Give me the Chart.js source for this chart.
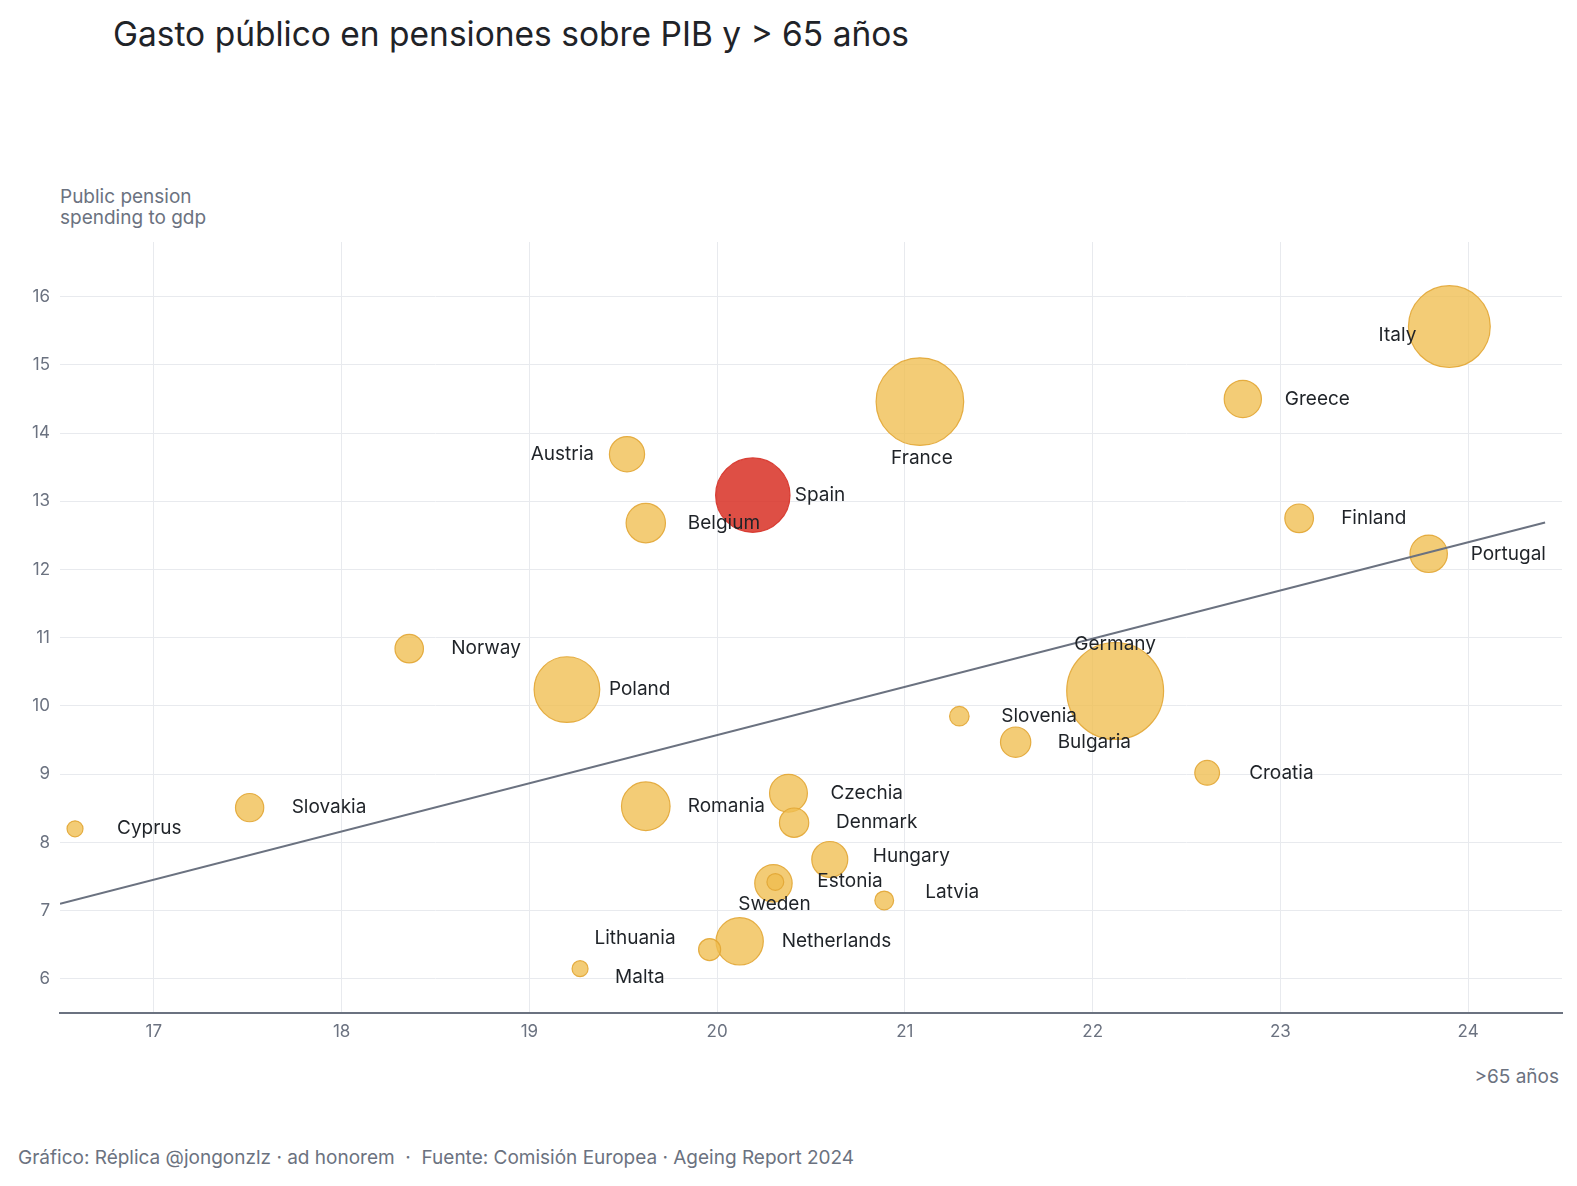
<!DOCTYPE html>
<html lang="es">
<head>
<meta charset="utf-8">
<title>Gasto público en pensiones sobre PIB y > 65 años</title>
<script src="https://cdn.jsdelivr.net/npm/chart.js@4"></script>
<style>
  html, body { margin: 0; padding: 0; background: #fff; }
  body { width: 1577px; height: 1186px; position: relative; overflow: hidden; font-family: Inter, "Liberation Sans", sans-serif; }
  /* lienzo algo más ancho: Chart.js reserva el radio de la burbuja mayor a la derecha */
  #chart { position: absolute; left: 0; top: 0; }
  .txt { position: absolute; white-space: nowrap; }
  #titulo { left: 113px; top: 13px; font-size: 33.5px; line-height: 42px; color: #1f2328; }
  #ytitulo { left: 60px; top: 186px; font-size: 19px; line-height: 21px; color: #6b7280; }
  #xtitulo { right: 18px; top: 1066px; font-size: 19px; line-height: 21px; color: #6b7280; }
  #fuente { left: 18px; top: 1147px; font-size: 19px; line-height: 21px; color: #6b7280; }
</style>
</head>
<body>
<div id="titulo" class="txt">Gasto público en pensiones sobre PIB y &gt; 65 años</div>
<div id="ytitulo" class="txt">Public pension<br>spending to gdp</div>
<div id="xtitulo" class="txt">&gt;65 años</div>
<div id="fuente" class="txt">Gráfico: Réplica @jongonzlz · ad honorem &nbsp;· &nbsp;Fuente: Comisión Europea · Ageing Report 2024</div>
<canvas id="chart" width="1612" height="1186"></canvas>
<script>
// datos
const paises = ['Italy', 'France', 'Greece', 'Spain', 'Austria', 'Belgium', 'Finland', 'Portugal',
  'Norway', 'Poland', 'Germany', 'Slovenia', 'Bulgaria', 'Croatia', 'Czechia', 'Denmark',
  'Romania', 'Slovakia', 'Cyprus', 'Hungary', 'Sweden', 'Estonia', 'Latvia', 'Netherlands',
  'Lithuania', 'Malta'];
const mayores65 = [23.90, 21.08, 22.80, 20.19, 19.52, 19.62, 23.10, 23.79,
  18.36, 19.20, 22.12, 21.29, 21.59, 22.61, 20.38, 20.41,
  19.62, 17.51, 16.58, 20.60, 20.30, 20.31, 20.89, 20.12,
  19.96, 19.27];
const gastoPension = [15.56, 14.46, 14.50, 13.09, 13.69, 12.68, 12.75, 12.23,
  10.84, 10.24, 10.22, 9.85, 9.47, 9.02, 8.72, 8.29,
  8.53, 8.51, 8.20, 7.75, 7.40, 7.42, 7.15, 6.55,
  6.43, 6.15];
// población (millones), da el tamaño de la burbuja
const poblacion = [59.0, 68.2, 10.4, 48.1, 9.1, 11.8, 5.6, 10.5,
  5.5, 36.8, 84.4, 2.1, 6.4, 3.9, 10.8, 5.9,
  19.0, 5.4, 0.9, 9.6, 10.5, 1.4, 1.9, 17.9,
  2.9, 0.5];
// recta de tendencia
const tendenciaX = [16.5, 24.41];
const tendenciaY = [7.10, 12.69];

// marcas de los ejes
const ticksX = [17, 18, 19, 20, 21, 22, 23, 24];
const ticksY = [6, 7, 8, 9, 10, 11, 12, 13, 14, 15, 16];

const destacado = 'Spain';

// colocación de etiquetas: [alineación, dx, dy]
const etiquetaPos = {
  Austria:   ['right', -33, 0],
  Italy:     ['right', -33, 9],
  Lithuania: ['right', -34, -11],
  France:    ['center', 2, 57],
  Germany:   ['center', 0, -47],
  Sweden:    ['center', 1, 21],
  Malta:     ['left', 35, 9],
  Latvia:    ['left', 41, -8],
  Hungary:   ['left', 43, -3],
  Estonia:   ['left', 42, -1]
};

const radio = p => Math.max(8, 2.5 + 5 * Math.sqrt(p));

const puntos = paises.map((p, i) => ({ x: mayores65[i], y: gastoPension[i], r: radio(poblacion[i]) }));
const relleno = paises.map(p => p === destacado ? 'rgba(216, 48, 36, 0.85)' : 'rgba(239, 190, 80, 0.78)');
const borde   = paises.map(p => p === destacado ? 'rgba(214, 50, 40, 0.9)' : 'rgba(226, 166, 52, 0.9)');

const etiquetas = {
  id: 'etiquetas',
  afterDatasetsDraw(chart) {
    const ctx = chart.ctx;
    const meta = chart.getDatasetMeta(1);
    ctx.save();
    ctx.font = '19px Inter, "Liberation Sans", sans-serif';
    ctx.fillStyle = '#1f2328';
    ctx.textBaseline = 'middle';
    meta.data.forEach((el, i) => {
      const nombre = paises[i];
      const [al, dx, dy] = etiquetaPos[nombre] || ['left', 42, 0];
      ctx.textAlign = al;
      ctx.fillText(nombre, el.x + dx, el.y + dy);
    });
    ctx.restore();
  }
};

new Chart(document.getElementById('chart'), {
  data: {
    datasets: [
      {
        type: 'line',
        label: 'Tendencia',
        data: tendenciaX.map((x, i) => ({ x: x, y: tendenciaY[i] })),
        borderColor: '#6b7280',
        borderWidth: 2,
        pointRadius: 0,
        order: 0
      },
      {
        type: 'bubble',
        label: 'Países',
        data: puntos,
        backgroundColor: relleno,
        borderColor: borde,
        borderWidth: 1.2,
        order: 1
      }
    ]
  },
  options: {
    responsive: false,
    animation: false,
    layout: { padding: { top: 242, right: 50, bottom: 133, left: 0 } },
    plugins: { legend: { display: false }, tooltip: { enabled: false } },
    scales: {
      x: {
        type: 'linear',
        min: 16.5,
        max: 24.5,
        afterBuildTicks: s => { s.ticks = ticksX.map(v => ({ value: v })); },
        afterFit: s => { s.height = 40; s.paddingRight = 0; s.paddingLeft = 0; },
        ticks: { padding: 9, color: '#6b7280', font: { family: 'Inter', size: 17 } },
        grid: { color: '#e8eaee', drawTicks: false },
        border: { display: true, color: '#6b7280', width: 2 }
      },
      y: {
        type: 'linear',
        min: 5.5,
        max: 16.8,
        afterBuildTicks: s => { s.ticks = ticksY.map(v => ({ value: v })); },
        afterFit: s => { s.width = 60; s.paddingTop = 0; s.paddingBottom = 0; },
        ticks: { padding: 10, color: '#6b7280', font: { family: 'Inter', size: 17 } },
        grid: { color: '#e8eaee', drawTicks: false },
        border: { display: false }
      }
    }
  },
  plugins: [etiquetas]
});
</script>
</body>
</html>
